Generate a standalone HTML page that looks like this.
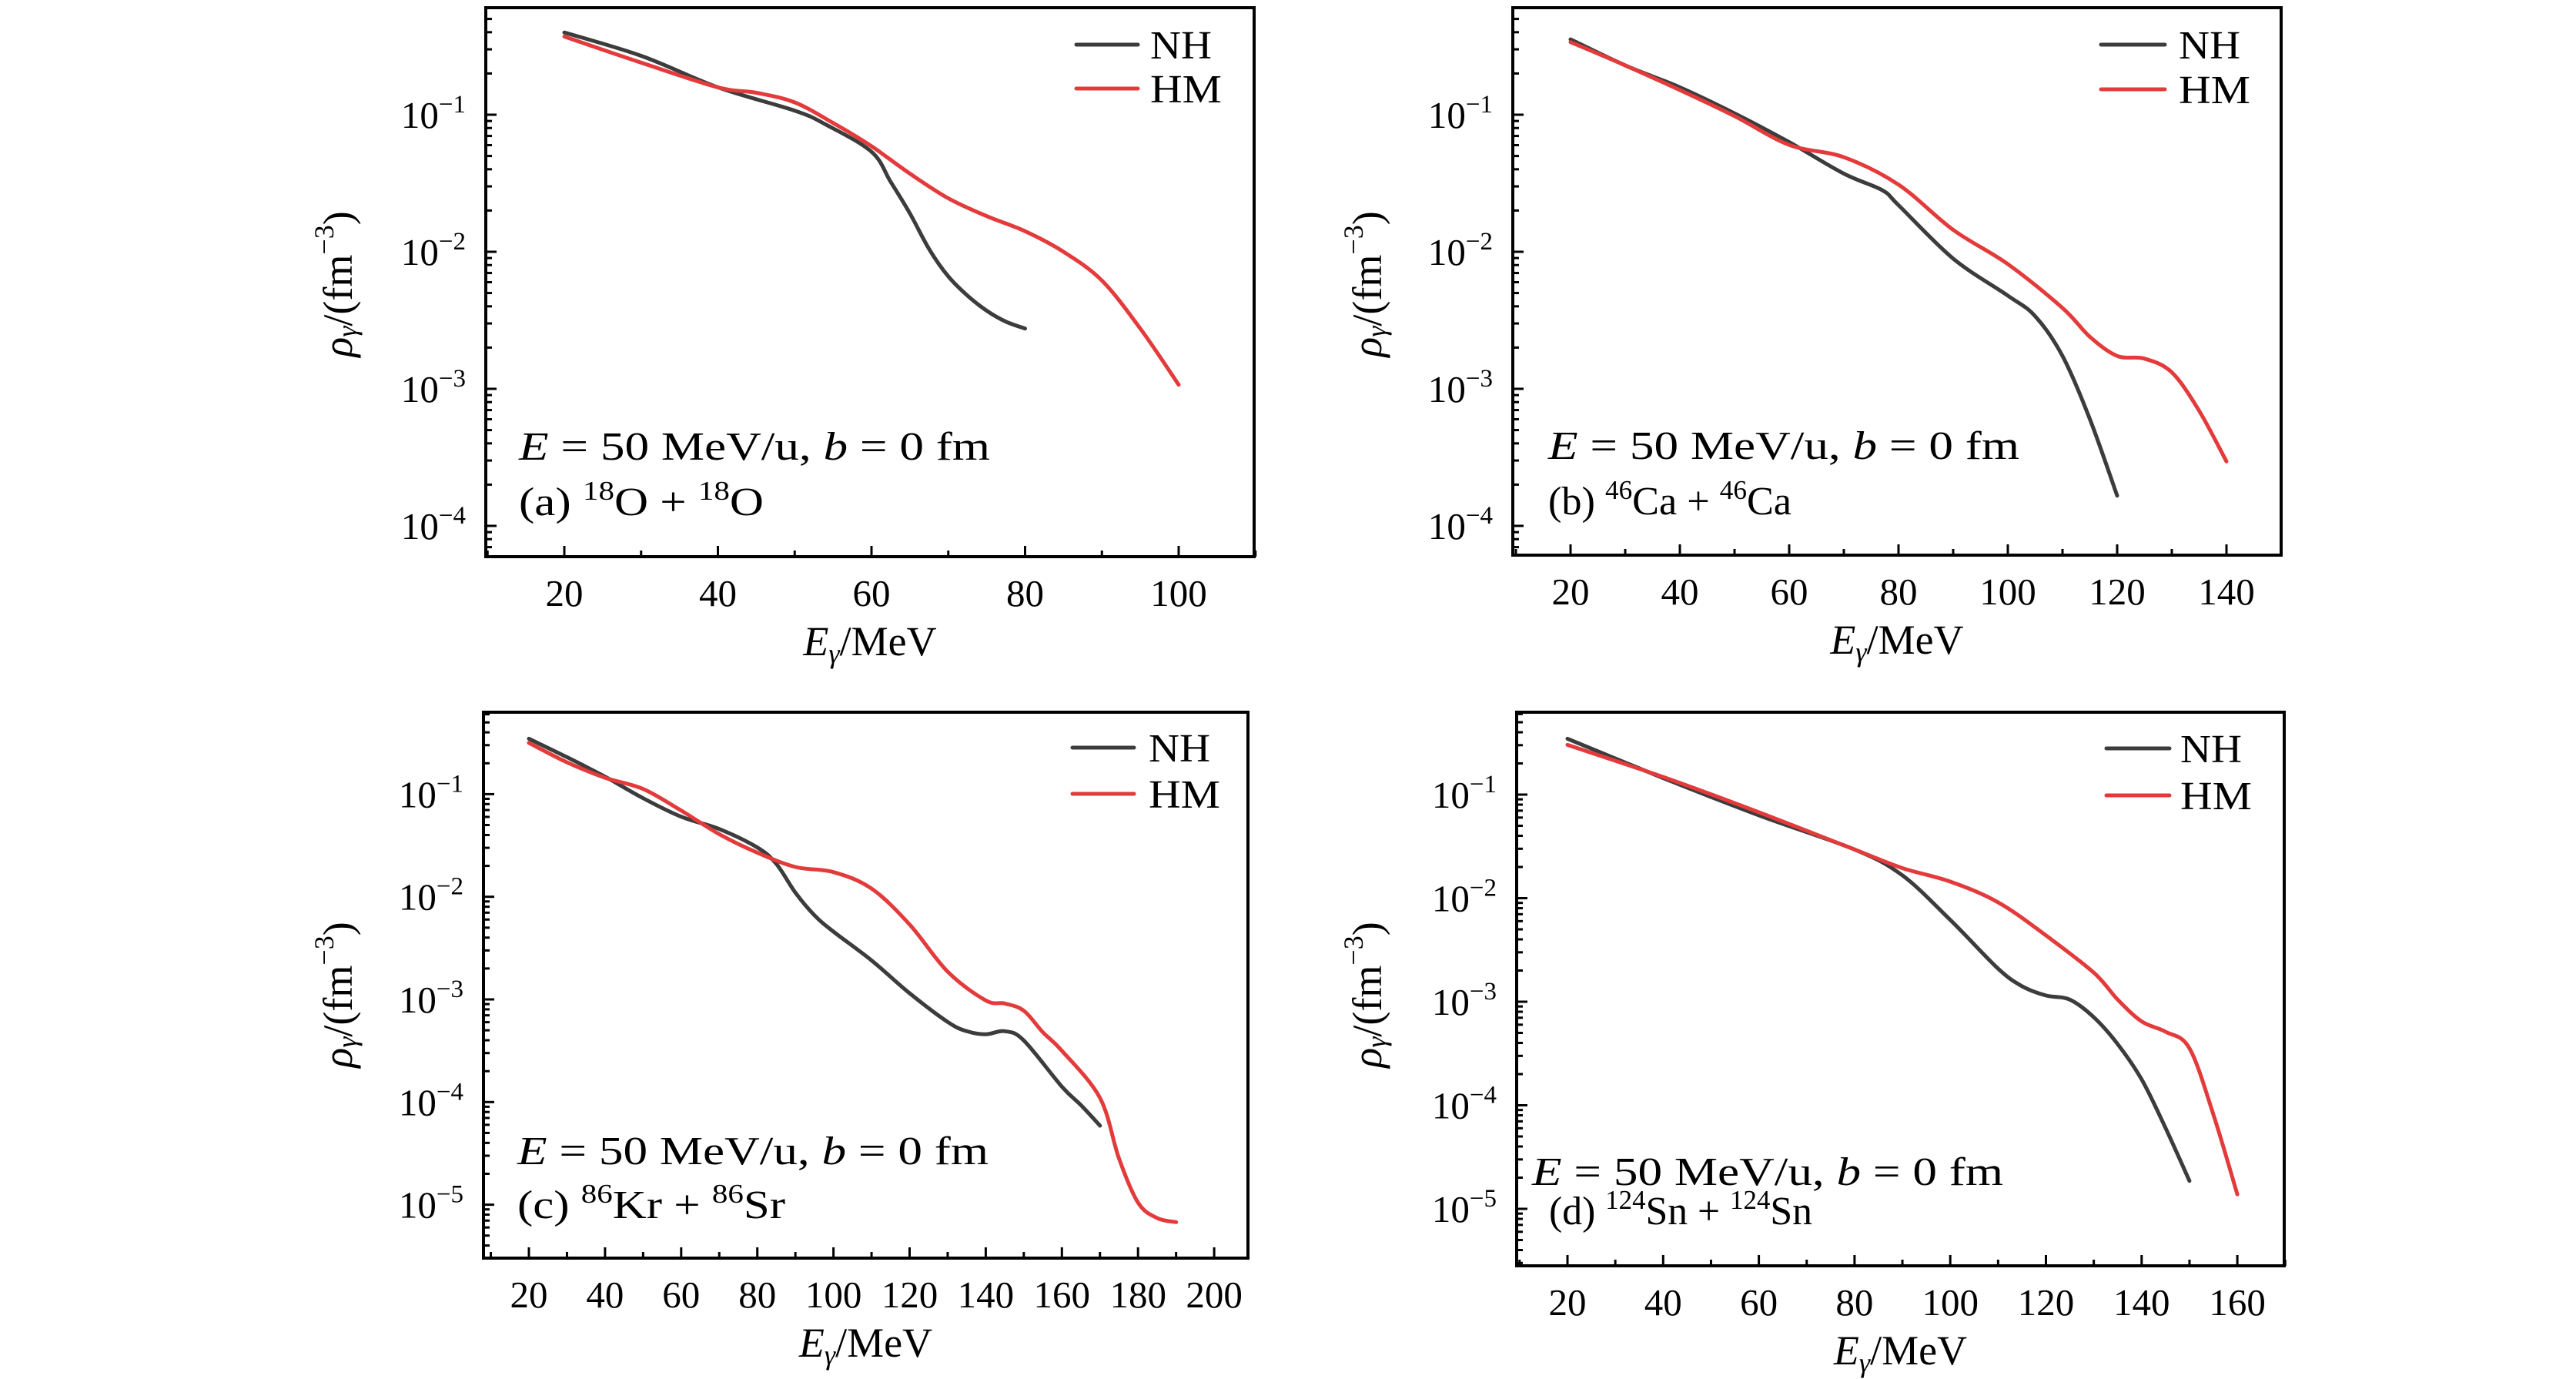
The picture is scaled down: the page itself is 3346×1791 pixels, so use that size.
<!DOCTYPE html>
<html><head><meta charset="utf-8"><style>
html,body{margin:0;padding:0;background:#fff;}
svg{display:block;font-family:"Liberation Serif",serif;}
</style></head><body>
<svg id="fig" width="3346" height="1791" viewBox="0 0 3346 1791" xmlns="http://www.w3.org/2000/svg"></svg>
<script>
// ---- data (energies in MeV, densities as log10 exponents) ----
const aNhE=[20,30,40,50,54,60,62.5,65,67.5,70,72.5,75,77.5,80];
const aNhLog=[-0.40,-0.57,-0.80,-0.97,-1.07,-1.27,-1.49,-1.72,-1.98,-2.18,-2.32,-2.43,-2.51,-2.56];
const aHmE=[20,30,40,45,50,55,60,65,70,75,80,85,90,95,100];
const aHmLog=[-0.43,-0.62,-0.80,-0.84,-0.91,-1.06,-1.23,-1.43,-1.61,-1.74,-1.85,-2.00,-2.21,-2.56,-2.97];

const bNhE=[20,30,40,50,60,70,77,80,90,100,105,110,115,120];
const bNhLog=[-0.45,-0.64,-0.80,-0.99,-1.20,-1.43,-1.55,-1.66,-2.05,-2.32,-2.47,-2.76,-3.22,-3.78];
const bHmE=[20,30,40,50,60,70,80,90,100,110,115,120,125,130,135,140];
const bHmLog=[-0.47,-0.64,-0.82,-1.01,-1.22,-1.31,-1.51,-1.84,-2.09,-2.41,-2.62,-2.76,-2.78,-2.88,-3.16,-3.53];

const cNhE=[20,30,40,50,60,70,80,85,90,95,100,110,120,130,135,140,145,150,160,165,170];
const cNhLog=[-0.46,-0.64,-0.83,-1.04,-1.22,-1.34,-1.52,-1.68,-1.96,-2.18,-2.34,-2.62,-2.94,-3.22,-3.31,-3.34,-3.31,-3.40,-3.85,-4.03,-4.23];
const cHmE=[20,30,40,50,60,70,80,90,100,110,120,130,140,145,150,155,160,170,175,180,185,190];
const cHmLog=[-0.50,-0.69,-0.84,-0.95,-1.16,-1.39,-1.57,-1.71,-1.76,-1.92,-2.27,-2.73,-3.01,-3.04,-3.11,-3.32,-3.50,-3.96,-4.55,-4.98,-5.13,-5.17];

const dNhE=[20,40,60,80,90,100,110,115,120,125,130,135,140,145,150];
const dNhLog=[-0.46,-0.84,-1.20,-1.53,-1.78,-2.21,-2.68,-2.85,-2.94,-2.98,-3.15,-3.41,-3.75,-4.22,-4.73];
const dHmE=[20,40,60,80,90,100,110,120,130,135,140,145,150,155,160];
const dHmLog=[-0.52,-0.83,-1.17,-1.53,-1.71,-1.84,-2.04,-2.36,-2.72,-2.98,-3.19,-3.29,-3.45,-4.09,-4.86];

const aTicks=[20,40,60,80,100], bTicks=[20,40,60,80,100,120,140];
const cTicks=[20,40,60,80,100,120,140,160,180,200], dTicks=[20,40,60,80,100,120,140,160];
const aDec=[-1,-2,-3,-4], bDec=[-1,-2,-3,-4], cDec=[-1,-2,-3,-4,-5], dDec=[-1,-2,-3,-4,-5];

const NS="http://www.w3.org/2000/svg";
const svg=document.getElementById('fig');
function mk(tag,attrs,parent){const e=document.createElementNS(NS,tag);for(const k in attrs)e.setAttribute(k,attrs[k]);(parent||svg).appendChild(e);return e;}

const panels=[
 {id:'a',L:631,R:1629,T:10,B:723,x20:733,p20:199.5,xmin:10,xmax:110,yRef:149,dec:178,ymin:-4.22,ticks:aTicks,decs:aDec,
  nh:[aNhE,aNhLog],hm:[aHmE,aHmLog],leg:[1398,1478,58,115,1494],ann:[674,597,669],annW:612,recW:318,lab:'(a)',r1:['18','O','18','O'],yt:[445,369]},
 {id:'b',L:1965,R:2963,T:10,B:721,x20:2040,p20:142,xmin:9.5,xmax:150,yRef:149,dec:178,ymin:-4.22,ticks:bTicks,decs:bDec,
  nh:[bNhE,bNhLog],hm:[bHmE,bHmLog],leg:[2729,2812,58,116,2830],ann:[2011,596,668],annW:612,recW:316,lab:'(b)',r1:['46','Ca','46','Ca'],yt:[1782,369]},
 {id:'c',L:628,R:1621,T:925,B:1634,x20:687,p20:98.9,xmin:9,xmax:209,yRef:1031.4,dec:133.3,ymin:-5.45,ticks:cTicks,decs:cDec,
  nh:[cNhE,cNhLog],hm:[cHmE,cHmLog],leg:[1393,1473,971,1031,1492],ann:[672,1512,1582],annW:612,recW:348,lab:'(c)',r1:['86','Kr','86','Sr'],yt:[445,1292]},
 {id:'d',L:1970,R:2967,T:925,B:1644,x20:2036,p20:124.3,xmin:9,xmax:170,yRef:1032,dec:134.5,ymin:-5.55,ticks:dTicks,decs:dDec,
  nh:[dNhE,dNhLog],hm:[dHmE,dHmLog],leg:[2736,2818,972,1033,2832],ann:[1990,1539,1590],annW:612,recW:342,lab:'(d)',r1:['124','Sn','124','Sn'],yt:[1782,1292]}
];

function smoothPath(pts){
  let d='M'+pts[0][0].toFixed(1)+','+pts[0][1].toFixed(1);
  for(let i=0;i<pts.length-1;i++){
    const p0=pts[Math.max(0,i-1)],p1=pts[i],p2=pts[i+1],p3=pts[Math.min(pts.length-1,i+2)];
    const c1=[p1[0]+(p2[0]-p0[0])/6,p1[1]+(p2[1]-p0[1])/6];
    const c2=[p2[0]-(p3[0]-p1[0])/6,p2[1]-(p3[1]-p1[1])/6];
    d+=' C'+c1[0].toFixed(1)+','+c1[1].toFixed(1)+' '+c2[0].toFixed(1)+','+c2[1].toFixed(1)+' '+p2[0].toFixed(1)+','+p2[1].toFixed(1);
  }
  return d;
}

panels.forEach(p=>{
  const g=mk('g',{});
  
  
  const X=e=>p.x20+(e-20)*p.p20/20;
  const Y=l=>p.yRef+(-1-l)*p.dec;
  [['nh','#3c3c3c'],['hm','#e33b3b']].forEach(([k,col])=>{
    const [E,Lg]=p[k];
    const pts=E.map((e,i)=>[X(e),Y(Lg[i])]);
    const path=mk('path',{d:smoothPath(pts),fill:'none',stroke:col,'stroke-width':5,'stroke-linecap':'round','stroke-linejoin':'round'},g);
    
    
  });
  const fr=mk('rect',{x:p.L,y:p.T,width:p.R-p.L,height:p.B-p.T,fill:'none',stroke:'#000','stroke-width':4},g);
  
  
  const xg=mk('g',{},g);
  
  
  for(let e=Math.ceil(p.xmin/10)*10;e<=p.xmax;e+=10){
    const major=p.ticks.includes(e);
    mk('line',{x1:X(e),x2:X(e),y1:p.B,y2:p.B-(major?14:8),stroke:'#000','stroke-width':3},xg);
  }
  p.ticks.forEach(t=>{
    const tx=mk('text',{x:X(t),y:p.B+64,'font-size':49,'text-anchor':'middle'},xg);
    tx.textContent=t;
    
    
  });
  const yg=mk('g',{},g);
  
  
  const lmax=-1+(p.yRef-p.T)/p.dec;
  for(let dcd=-6;dcd<=0;dcd++){
    for(let m=1;m<10;m++){
      const l=dcd+Math.log10(m);
      if(l<p.ymin||l>lmax)continue;
      const yy=Y(l);
      mk('line',{x1:p.L,x2:p.L+(m===1?14:8),y1:yy,y2:yy,stroke:'#000','stroke-width':3},yg);
    }
  }
  p.decs.forEach(dc=>{
    const t=mk('text',{x:p.L-26,y:Y(dc)+17,'font-size':49,'text-anchor':'end'},yg);
    
    
    const a=mk('tspan',{},t);a.textContent='10';
    const b=mk('tspan',{'font-size':33,dy:-20});b.textContent='\u2212'+(-dc);t.appendChild(b);
  });
  const xt=mk('text',{x:(p.L+p.R)/2,y:p.B+128,'font-size':54,'text-anchor':'middle'},g);
  
  
  const e1=mk('tspan',{'font-style':'italic'},xt);e1.textContent='E';
  const e2=mk('tspan',{'font-style':'italic','font-size':36,dy:10},xt);e2.textContent='\u03b3';
  const e3=mk('tspan',{dy:-10},xt);e3.textContent='/MeV';
  const yt=mk('text',{x:p.yt[0],y:p.yt[1],'font-size':54,'text-anchor':'middle',transform:'rotate(-90 '+p.yt[0]+' '+p.yt[1]+')','dominant-baseline':'middle'},g);
  
  
  const r1=mk('tspan',{'font-style':'italic'},yt);r1.textContent='\u03c1';
  const r2=mk('tspan',{'font-style':'italic','font-size':36,dy:10},yt);r2.textContent='\u03b3';
  const r3=mk('tspan',{dy:-10},yt);r3.textContent='/(fm';
  const r4=mk('tspan',{'font-size':36,dy:-20},yt);r4.textContent='\u22123';
  const r5=mk('tspan',{dy:20},yt);r5.textContent=')';
  const lg=mk('g',{},g);
  
  
  [['NH','#3c3c3c',p.leg[2]],['HM','#e33b3b',p.leg[3]]].forEach(([n,c,yy])=>{
    const ln=mk('line',{x1:p.leg[0],x2:p.leg[1],y1:yy,y2:yy,stroke:c,'stroke-width':5,'stroke-linecap':'round'},lg);
    
    
    const tx=mk('text',{x:p.leg[4],y:yy+18,'font-size':52,textLength:n==='NH'?80:93,lengthAdjust:'spacingAndGlyphs'},lg);
    tx.textContent=n;
    
    
  });
  const an=mk('text',{x:p.ann[0],y:p.ann[1],'font-size':52,textLength:p.annW,lengthAdjust:'spacingAndGlyphs'},g);
  
  
  const s1=mk('tspan',{'font-style':'italic'},an);s1.textContent='E';
  const s2=mk('tspan',{},an);s2.textContent=' = 50 MeV/u, ';
  const s3=mk('tspan',{'font-style':'italic'},an);s3.textContent='b';
  const s4=mk('tspan',{},an);s4.textContent=' = 0 fm';
  const rc=mk('text',{x:p.ann[0]+(p.id==='d'?22:0),y:p.ann[2],'font-size':52,textLength:p.recW,lengthAdjust:'spacingAndGlyphs'},g);
  
  
  const q0=mk('tspan',{},rc);q0.textContent=p.lab+'  ';
  const q1=mk('tspan',{'font-size':35,dy:-20},rc);q1.textContent=p.r1[0];
  const q2=mk('tspan',{dy:20},rc);q2.textContent=p.r1[1]+' + ';
  const q3=mk('tspan',{'font-size':35,dy:-20},rc);q3.textContent=p.r1[2];
  const q4=mk('tspan',{dy:20},rc);q4.textContent=p.r1[3];
});
</script>
</body></html>
